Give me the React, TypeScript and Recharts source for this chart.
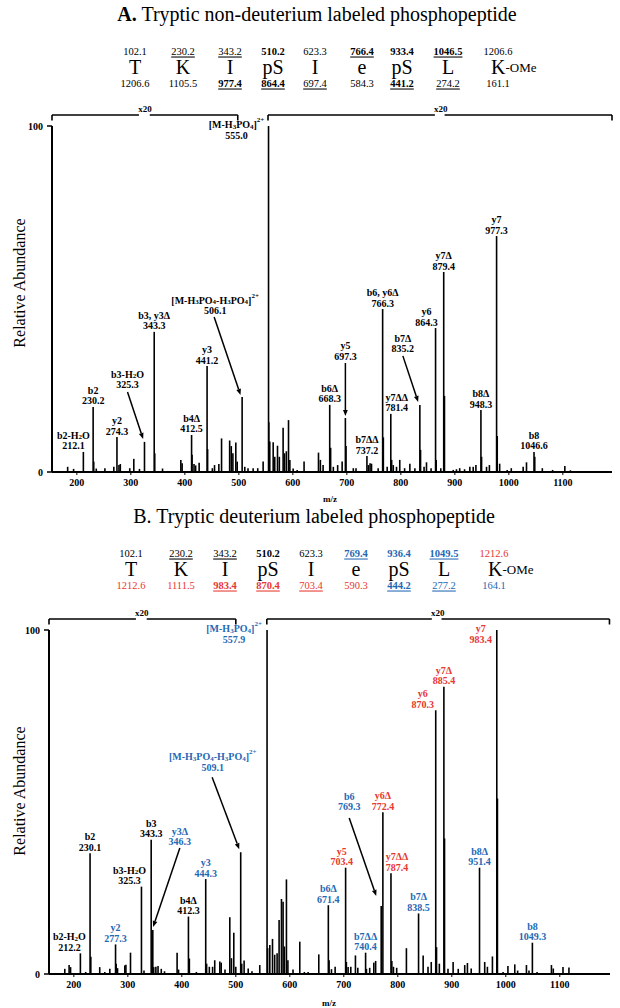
import React from "react";
import { ComposedChart, Bar, XAxis, YAxis, ReferenceDot, ReferenceLine } from "recharts";

const FONT = "Times New Roman, Liberation Serif, Tinos, DejaVu Serif, serif";
const RED = "#e8372f";
const BLUE = "#2468b4";
const seriesColor: Record<string, string> = { k: "#000", r: RED, b: BLUE };

// ---- sequence header ----
const residues = ["T", "K", "I", "pS", "I", "e", "pS", "L", "K"];
const bIonsA = ["102.1", "230.2", "343.2", "510.2", "623.3", "766.4", "933.4", "1046.5", "1206.6"];
const yIonsA = ["1206.6", "1105.5", "977.4", "864.4", "697.4", "584.3", "441.2", "274.2", "161.1"];
const bMarkA = ["", "u", "u", "b", "", "bu", "b", "bu", ""];
const yMarkA = ["", "", "bu", "bu", "u", "", "bu", "u", ""];

const bIonsB = ["102.1", "230.2", "343.2", "510.2", "623.3", "769.4", "936.4", "1049.5", "1212.6"];
const yIonsB = ["1212.6", "1111.5", "983.4", "870.4", "703.4", "590.3", "444.2", "277.2", "164.1"];
const bMarkB = ["", "u", "u", "b", "", "bu", "b", "bu", ""];
const yMarkB = ["", "", "bu", "bu", "u", "", "bu", "u", ""];
const bSeriesB = ["k", "k", "k", "k", "k", "b", "b", "b", "r"];
const ySeriesB = ["r", "r", "r", "r", "r", "r", "b", "b", "b"];

const xTicks = [200, 300, 400, 500, 600, 700, 800, 900, 1000, 1100];

// ---- A: non-deuterium spectrum ----
const ionsA = [
  { mz: 212.1, h: 5.8, ion: "b2-H_{2}O", s: "k" },
  { mz: 230.2, h: 18.8, ion: "b2", s: "k" },
  { mz: 274.3, h: 10.1, ion: "y2", s: "k" },
  { mz: 325.3, h: 8.7, ion: "b3-H_{2}O", s: "k" },
  { mz: 343.3, h: 40.5, ion: "b3, y3Δ", s: "k" },
  { mz: 412.5, h: 10.7, ion: "b4Δ", s: "k" },
  { mz: 441.2, h: 30.6, ion: "y3", s: "k" },
  { mz: 506.1, h: 21.7, ion: "[M-H_{3}PO_{4}-H_{3}PO_{4}]^{2+}", s: "k" },
  { mz: 555.0, h: 100, ion: "[M-H_{3}PO_{4}]^{2+}", s: "k" },
  { mz: 668.3, h: 19.4, ion: "b6Δ", s: "k" },
  { mz: 697.3, h: 15.6, ion: "y5", s: "k" },
  { mz: 737.2, h: 4.6, ion: "b7ΔΔ", s: "k" },
  { mz: 766.3, h: 47.1, ion: "b6, y6Δ", s: "k" },
  { mz: 781.4, h: 16.8, ion: "y7ΔΔ", s: "k" },
  { mz: 835.2, h: 19.4, ion: "b7Δ", s: "k" },
  { mz: 864.3, h: 41.6, ion: "y6", s: "k" },
  { mz: 879.4, h: 57.8, ion: "y7Δ", s: "k" },
  { mz: 948.3, h: 17.9, ion: "b8Δ", s: "k" },
  { mz: 977.3, h: 68.2, ion: "y7", s: "k" },
  { mz: 1046.6, h: 5.8, ion: "b8", s: "k" },
];

const noiseA: [number, number][] = [
  [183.0, 1.5], [194.0, 0.9], [231.3, 3.0], [236.0, 1.0], [252.0, 1.1], [268.5, 1.5],
  [278.0, 2.0], [280.5, 2.3], [298.0, 1.1], [305.5, 3.8], [316.0, 0.9], [344.3, 5.4],
  [358.7, 1.0], [392.6, 3.5], [395.0, 2.5], [413.4, 5.0], [417.0, 2.3], [420.0, 1.9],
  [426.5, 2.7], [442.2, 6.6], [451.0, 1.1], [455.0, 2.0], [463.0, 2.3], [468.0, 9.7],
  [483.0, 9.1], [486.0, 7.5], [489.0, 5.4], [494.4, 8.5], [497.0, 3.0], [511.0, 1.5],
  [517.0, 1.1], [526.5, 1.1], [535.0, 1.1], [545.0, 3.0], [555.5, 14.4], [557.3, 8.8],
  [563.6, 8.6], [566.5, 4.4], [571.6, 7.6], [575.0, 4.4], [582.0, 12.8], [584.5, 5.4],
  [588.0, 6.0], [592.0, 15.0], [594.5, 3.5], [600.6, 1.0], [608.0, 0.6], [620.8, 3.0],
  [647.5, 5.6], [651.0, 3.5], [656.0, 2.0], [670.0, 7.0], [675.0, 1.5], [683.0, 2.0],
  [691.3, 3.0], [698.5, 7.5], [712.0, 1.1], [717.0, 1.1], [740.0, 2.0], [743.0, 2.5],
  [745.7, 2.4], [758.0, 1.1], [767.6, 10.0], [774.7, 1.5], [783.0, 3.5], [786.0, 2.0],
  [792.0, 1.5], [798.0, 3.5], [807.0, 1.1], [816.7, 2.4], [826.0, 1.1], [836.5, 6.4],
  [843.0, 1.5], [847.5, 2.8], [856.0, 1.1], [865.5, 3.5], [874.0, 1.1], [880.8, 22.0],
  [897.0, 0.6], [903.0, 0.8], [909.0, 1.1], [918.0, 0.8], [927.8, 1.5], [934.0, 1.5],
  [939.0, 2.0], [949.5, 4.4], [958.7, 1.5], [964.0, 2.0], [978.5, 10.4], [983.0, 2.4],
  [996.9, 0.6], [1004.5, 1.1], [1026.5, 1.5], [1032.7, 2.8], [1048.0, 4.4], [1062.0, 1.1],
  [1081.0, 0.6], [1103.7, 1.7], [1114.0, 0.5],
];

// ---- B: deuterium spectrum ----
const ionsB = [
  { mz: 212.2, h: 6.0, ion: "b2-H_{2}O", s: "k" },
  { mz: 230.1, h: 35.1, ion: "b2", s: "k" },
  { mz: 277.3, h: 8.6, ion: "y2", s: "b" },
  { mz: 325.3, h: 25.4, ion: "b3-H_{2}O", s: "k" },
  { mz: 343.3, h: 39.0, ion: "b3", s: "k" },
  { mz: 346.3, h: 12.8, ion: "y3Δ", s: "b" },
  { mz: 412.3, h: 16.7, ion: "b4Δ", s: "k" },
  { mz: 444.3, h: 27.6, ion: "y3", s: "b" },
  { mz: 509.1, h: 35.4, ion: "[M-H_{3}PO_{4}-H_{3}PO_{4}]^{2+}", s: "b" },
  { mz: 557.9, h: 100, ion: "[M-H_{3}PO_{4}]^{2+}", s: "b" },
  { mz: 671.4, h: 20.0, ion: "b6Δ", s: "b" },
  { mz: 703.4, h: 30.9, ion: "y5", s: "r" },
  { mz: 740.4, h: 6.2, ion: "b7ΔΔ", s: "b" },
  { mz: 769.3, h: 19.8, ion: "b6", s: "b" },
  { mz: 772.4, h: 47.0, ion: "y6Δ", s: "r" },
  { mz: 787.4, h: 29.3, ion: "y7ΔΔ", s: "r" },
  { mz: 838.5, h: 17.6, ion: "b7Δ", s: "b" },
  { mz: 870.3, h: 76.7, ion: "y6", s: "r" },
  { mz: 885.4, h: 83.5, ion: "y7Δ", s: "r" },
  { mz: 951.4, h: 30.9, ion: "b8Δ", s: "b" },
  { mz: 983.4, h: 100, ion: "y7", s: "r" },
  { mz: 1049.3, h: 9.1, ion: "b8", s: "b" },
];

const noiseB: [number, number][] = [
  [183.3, 1.5], [191.3, 2.6], [194.0, 2.0], [222.0, 0.6], [231.5, 5.0], [248.0, 2.0],
  [257.4, 0.6], [266.7, 1.5], [278.5, 3.0], [281.0, 1.7], [294.4, 2.5], [296.5, 2.7],
  [305.0, 6.2], [330.0, 1.0], [348.0, 2.0], [352.0, 2.1], [356.0, 2.3], [362.0, 1.5],
  [368.0, 0.8], [391.3, 6.2], [394.0, 1.3], [414.0, 4.5], [427.0, 0.6], [446.0, 3.0],
  [451.0, 2.1], [457.0, 2.1], [461.0, 4.0], [470.4, 3.6], [473.0, 3.3], [480.0, 1.3],
  [488.9, 16.5], [492.0, 4.6], [496.3, 12.0], [500.0, 2.1], [511.0, 3.0], [515.4, 3.9],
  [523.0, 1.6], [530.0, 0.8], [544.4, 2.6], [559.0, 7.5], [563.0, 8.4], [568.0, 10.2],
  [572.0, 5.6], [576.5, 6.0], [580.2, 15.7], [584.6, 21.8], [587.6, 21.0], [590.0, 8.0],
  [593.8, 27.5], [596.5, 4.0], [606.0, 1.3], [618.5, 9.4], [627.0, 0.6], [633.9, 0.6],
  [653.7, 5.7], [672.8, 4.0], [677.2, 1.4], [684.0, 2.1], [704.8, 3.5], [708.0, 2.0],
  [713.0, 2.1], [721.6, 5.4], [726.0, 1.8], [742.0, 1.5], [748.0, 1.8], [755.6, 3.3],
  [759.0, 3.8], [789.0, 3.8], [792.0, 2.1], [798.0, 1.8], [816.0, 7.5], [847.0, 5.4],
  [856.0, 2.1], [862.0, 3.5], [871.8, 7.8], [877.0, 3.0], [886.6, 39.4], [893.0, 1.5],
  [902.5, 3.5], [912.0, 1.5], [924.0, 2.6], [929.0, 3.2], [936.0, 1.6], [961.0, 3.5],
  [966.0, 2.1], [975.3, 5.1], [984.6, 51.0], [995.0, 0.6], [1004.0, 2.3], [1016.7, 2.8],
  [1022.0, 1.0], [1038.3, 2.6], [1043.0, 1.0], [1058.0, 0.6], [1084.6, 2.6], [1088.0, 1.6],
  [1106.0, 2.0], [1117.0, 1.9],
];

// label placement relative to the peak top (px); arrow = [x1, y1, x2, y2]
type Place = { dx?: number; dy?: number; arrow?: number[] };
const placeA: Record<string, Place> = {
  "212.1": { dx: -10 },
  "325.3": { dx: -17, dy: -57, arrow: [-17, -50, -1.4, -3] },
  "506.1": { dx: -27, dy: -86, arrow: [-28, -80, -1.6, -2] },
  "555.0": { dx: -32, dy: 9 },
  "697.3": { dx: 0, dy: -62, arrow: [0, -55, 0, -2] },
  "781.4": { dx: 6 },
  "835.2": { dx: -17, dy: -56, arrow: [-17, -49, -1.7, -3] },
  "864.3": { dx: -9 },
};
const placeB: Record<string, Place> = {
  "212.2": { dx: -11 },
  "325.3": { dx: -12 },
  "346.3": { dx: 27, dy: -88, arrow: [27, -82, 0.3, -3] },
  "509.1": { dx: -28, dy: -85, arrow: [-28.6, -75, -1.5, -3] },
  "557.9": { dx: -33, dy: 9 },
  "703.4": { dx: -4 },
  "769.3": { dx: -32, dy: -99, arrow: [-32, -88, -5, -10] },
  "787.4": { dx: 6 },
  "870.3": { dx: -13 },
  "983.4": { dx: -16, dy: 9 },
};

// x20 brackets: [start, end, gapStart, gapEnd, textAt]
const bracketsA = [[154, 498, 315, 335, 326], [554, 1191, 863, 881, 874]];
const bracketsB = [[154, 500, 315, 335, 326], [557.4, 1192, 863, 881, 874]];

const toSticks = (ions: { mz: number; h: number }[], noise: [number, number][]) =>
  [...ions.map((d) => ({ mz: d.mz, h: d.h })), ...noise.map(([mz, h]) => ({ mz, h }))].sort(
    (a, b) => a.mz - b.mz
  );

function Rich({ s }: { s: string }) {
  const parts = s.split(/(_\{[^}]*\}|\^\{[^}]*\})/).filter(Boolean);
  let shift = 0;
  return (
    <>
      {parts.map((p, i) => {
        if (p.startsWith("_{")) {
          const d = 2.5 - shift;
          shift = 2.5;
          return (
            <tspan key={i} dy={d} fontSize={7}>
              {p.slice(2, -1)}
            </tspan>
          );
        }
        if (p.startsWith("^{")) {
          const d = -4 - shift;
          shift = -4;
          return (
            <tspan key={i} dy={d} fontSize={7}>
              {p.slice(2, -1)}
            </tspan>
          );
        }
        const d = -shift;
        shift = 0;
        return (
          <tspan key={i} dy={d}>
            {p}
          </tspan>
        );
      })}
    </>
  );
}

function Arrow({ x1, y1, x2, y2 }: { x1: number; y1: number; x2: number; y2: number }) {
  const a = Math.atan2(y2 - y1, x2 - x1);
  const L = 6;
  const W = 2.4;
  const bx = x2 - L * Math.cos(a);
  const by = y2 - L * Math.sin(a);
  const pts = `${x2},${y2} ${bx - W * Math.sin(a)},${by + W * Math.cos(a)} ${bx + W * Math.sin(a)},${by - W * Math.cos(a)}`;
  return (
    <g>
      <line x1={x1} y1={y1} x2={bx} y2={by} stroke="#000" strokeWidth={1.5} />
      <polygon points={pts} fill="#000" />
    </g>
  );
}

function PeakLabel({ cx, cy, ion, mz, color, place }: any) {
  const p: Place = place || {};
  const x = cx + (p.dx ?? 0);
  const y = cy + (p.dy ?? -6);
  const common = {
    textAnchor: "middle" as const,
    dominantBaseline: "central" as const,
    fontSize: 10,
    fontWeight: "bold",
    fontFamily: FONT,
    fill: color,
  };
  return (
    <g>
      <text x={x} y={y - 11} {...common}>
        <Rich s={ion} />
      </text>
      <text x={x} y={y} {...common}>
        {mz.toFixed(1)}
      </text>
      {p.arrow && <Arrow x1={cx + p.arrow[0]} y1={cy + p.arrow[1]} x2={cx + p.arrow[2]} y2={cy + p.arrow[3]} />}
    </g>
  );
}

const Stick = (p: any) => {
  const x = p.x + p.width / 2;
  return <line x1={x} x2={x} y1={p.y} y2={p.y + p.height} stroke="#000" strokeWidth={1.6} />;
};

function bracketLines(key: string, br: number[]) {
  const [a, b, g1, g2, t] = br;
  const y = 103.2;
  const yt = 101.6;
  const seg = (k: string, x1: number, y1: number, x2: number, y2: number) => (
    <ReferenceLine
      key={key + k}
      segment={[{ x: x1, y: y1 }, { x: x2, y: y2 }]}
      stroke="#000"
      strokeWidth={1.6}
      ifOverflow="visible"
    />
  );
  return [
    seg("l", a, y, g1, y),
    seg("r", g2, y, b, y),
    seg("ta", a, y, a, yt),
    seg("tb", b, y, b, yt),
    <ReferenceDot
      key={key + "t"}
      x={t}
      y={104.8}
      ifOverflow="visible"
      shape={(p: any) => (
        <text x={p.cx} y={p.cy} textAnchor="middle" dominantBaseline="central" fontSize={9} fontWeight="bold" fontFamily={FONT}>
          x20
        </text>
      )}
    />,
  ];
}

function Spectrum({ top, margin, domain, sticks, ions, place, brackets }: any) {
  const tick = { fontSize: 10, fontWeight: "bold", fill: "#000", fontFamily: FONT };
  return (
    <div style={{ position: "absolute", left: 0, top, width: 620, height: 410 }}>
      <ComposedChart width={620} height={410} data={sticks} margin={margin} style={{ fontFamily: FONT }}>
        <XAxis
          dataKey="mz"
          type="number"
          domain={domain}
          allowDataOverflow
          ticks={xTicks}
          interval={0}
          height={25}
          tickSize={3}
          tickMargin={4}
          axisLine={{ stroke: "#000", strokeWidth: 2 }}
          tickLine={{ stroke: "#000" }}
          tick={tick}
        />
        <YAxis
          type="number"
          domain={[0, 100]}
          ticks={[0, 100]}
          width={40}
          tickSize={5}
          tickMargin={4}
          axisLine={{ stroke: "#000", strokeWidth: 2 }}
          tickLine={{ stroke: "#000", strokeWidth: 1.5 }}
          tick={tick}
        />
        <Bar dataKey="h" barSize={2} isAnimationActive={false} shape={(p: any) => <Stick {...p} />} />
        {brackets.map((br: number[], i: number) => bracketLines("br" + i, br))}
        {ions.map((d: any) => (
          <ReferenceDot
            key={d.mz}
            x={d.mz}
            y={d.h}
            shape={(p: any) => (
              <PeakLabel
                cx={p.cx}
                cy={p.cy}
                ion={d.ion}
                mz={d.mz}
                color={seriesColor[d.s]}
                place={place[d.mz.toFixed(1)]}
              />
            )}
          />
        ))}
      </ComposedChart>
    </div>
  );
}

function Header({ y, xs, kx, bIons, yIons, bMark, yMark, bSeries, ySeries }: any) {
  const num = (v: string, x: number, yy: number, mark: string, s: string, key: string) => (
    <text
      key={key}
      x={x}
      y={yy}
      textAnchor="middle"
      dominantBaseline="central"
      fontSize={10.5}
      fontWeight={mark.includes("b") ? "bold" : "normal"}
      textDecoration={mark.includes("u") ? "underline" : "none"}
      fill={seriesColor[s]}
    >
      {v}
    </text>
  );
  return (
    <g>
      {bIons.map((v: string, i: number) => num(v, xs[i], y, bMark[i], bSeries ? bSeries[i] : "k", "b" + i))}
      {residues.map((r, i) =>
        i < residues.length - 1 ? (
          <text key={"r" + i} x={xs[i]} y={y + 16} textAnchor="middle" dominantBaseline="central" fontSize={20}>
            {r}
          </text>
        ) : (
          <text key={"r" + i} x={kx} y={y + 16} textAnchor="start" dominantBaseline="central" fontSize={20}>
            {r}
            <tspan fontSize={13}>-OMe</tspan>
          </text>
        )
      )}
      {yIons.map((v: string, i: number) => num(v, xs[i], y + 32, yMark[i], ySeries ? ySeries[i] : "k", "y" + i))}
    </g>
  );
}

const colsA = [135, 183, 230, 273, 315, 362, 402, 448, 498];
const colsB = [131, 181, 225, 268, 311, 356, 399, 444, 494];

export default function App() {
  return (
    <div style={{ position: "absolute", left: 0, top: 0, width: 620, height: 1008, background: "#fff", fontFamily: FONT }}>
      <Spectrum
        top={100}
        margin={{ top: 26, right: 8, left: 12, bottom: 13 }}
        domain={[154, 1191]}
        sticks={toSticks(ionsA, noiseA)}
        ions={ionsA}
        place={placeA}
        brackets={bracketsA}
      />
      <Spectrum
        top={600}
        margin={{ top: 30, right: 10, left: 9, bottom: 11 }}
        domain={[154, 1193]}
        sticks={toSticks(ionsB, noiseB)}
        ions={ionsB}
        place={placeB}
        brackets={bracketsB}
      />
      <svg
        width={620}
        height={1008}
        style={{ position: "absolute", left: 0, top: 0, pointerEvents: "none", fontFamily: FONT }}
      >
        <text x={317} y={14} textAnchor="middle" dominantBaseline="central" fontSize={20}>
          <tspan fontWeight="bold">A.</tspan>
          {" Tryptic non-deuterium labeled phosphopeptide"}
        </text>
        <Header y={51} xs={colsA} kx={491} bIons={bIonsA} yIons={yIonsA} bMark={bMarkA} yMark={yMarkA} />
        <text x={314} y={516} textAnchor="middle" dominantBaseline="central" fontSize={20}>
          B. Tryptic deuterium labeled phosphopeptide
        </text>
        <Header
          y={553}
          xs={colsB}
          kx={488}
          bIons={bIonsB}
          yIons={yIonsB}
          bMark={bMarkB}
          yMark={yMarkB}
          bSeries={bSeriesB}
          ySeries={ySeriesB}
        />
        <text x={19} y={283} transform="rotate(-90 19 283)" textAnchor="middle" dominantBaseline="central" fontSize={16}>
          Relative Abundance
        </text>
        <text x={19} y={791} transform="rotate(-90 19 791)" textAnchor="middle" dominantBaseline="central" fontSize={16}>
          Relative Abundance
        </text>
        <text x={330} y={499} textAnchor="middle" dominantBaseline="central" fontSize={9} fontWeight="bold">
          m/z
        </text>
        <text x={329} y={1003} textAnchor="middle" dominantBaseline="central" fontSize={9} fontWeight="bold">
          m/z
        </text>
      </svg>
    </div>
  );
}
